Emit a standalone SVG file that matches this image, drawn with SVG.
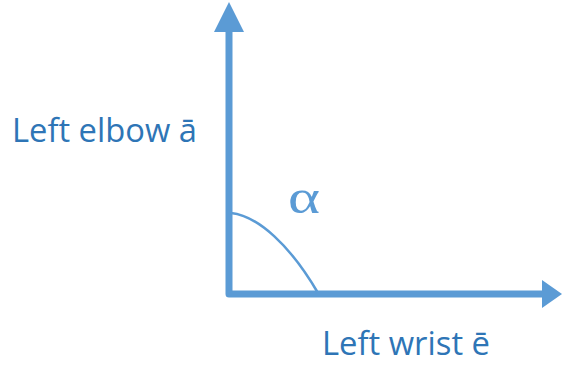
<svg xmlns="http://www.w3.org/2000/svg" width="562" height="366" viewBox="0 0 562 366">
<style>
.lbl{font-family:"Open Sans","Noto Sans",sans-serif;font-size:33px;fill:#2E75B6}
.axis{stroke:#5B9BD5;stroke-width:7;fill:none;stroke-linejoin:round}
</style>
<rect width="562" height="366" fill="#fff"/>
<g id="connectors">
<path class="axis" d="M229,30 L229,294 L545,294"/>
<polygon points="229,2 214,32 244,32" fill="#5B9BD5"/>
<polygon points="562,294 542,280 542,308" fill="#5B9BD5"/>
<path d="M231,213 C258,216 290,245 318,293" stroke="#5B9BD5" stroke-width="2.5" fill="none"/>
</g>
<g id="alpha"><text x="288" y="213" font-family="Liberation Serif,serif" font-size="48" fill="#5B9BD5" textLength="32" lengthAdjust="spacingAndGlyphs">α</text></g>
<g id="elbow"><text class="lbl" x="12" y="142" textLength="185" lengthAdjust="spacingAndGlyphs">Left elbow ā</text></g>
<g id="wrist"><text class="lbl" x="322" y="355" textLength="168" lengthAdjust="spacingAndGlyphs">Left wrist ē</text></g>
</svg>
